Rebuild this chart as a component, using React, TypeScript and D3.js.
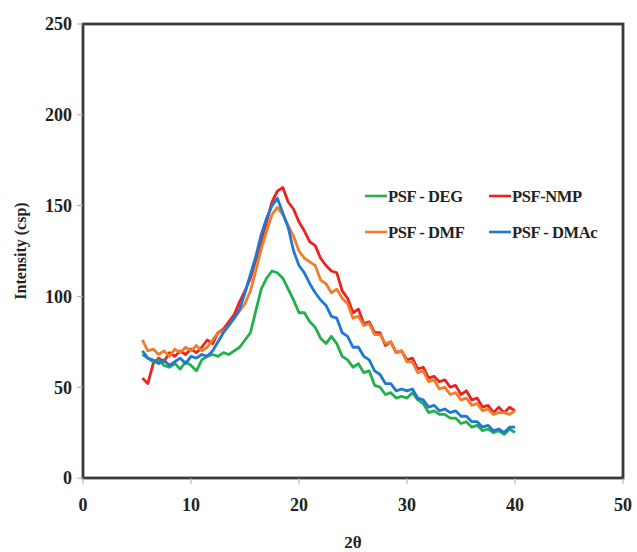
import React from "react";
import * as d3 from "d3";

const twoTheta = [
  5.5, 6, 6.5, 7, 7.5, 8, 8.5, 9, 9.5, 10, 10.5, 11, 11.5, 12, 12.5, 13, 13.5, 14, 14.5, 15,
  15.5, 16, 16.5, 17, 17.5, 18, 18.5, 19, 19.5, 20, 20.5, 21, 21.5, 22, 22.5, 23, 23.5, 24, 24.5, 25,
  25.5, 26, 26.5, 27, 27.5, 28, 28.5, 29, 29.5, 30, 30.5, 31, 31.5, 32, 32.5, 33, 33.5, 34, 34.5, 35,
  35.5, 36, 36.5, 37, 37.5, 38, 38.5, 39, 39.5, 40,
];

const nmp = [
  55, 52, 63, 66, 64, 69, 67, 70, 68, 71, 69, 72, 76, 74, 80, 82, 86, 90, 97, 103,
  110, 120, 130, 141, 152, 158, 160, 152, 148, 141, 136, 130, 128, 121, 117, 114, 113, 103, 99, 91,
  93, 85, 86, 80, 80, 73, 75, 69, 70, 65, 66, 60, 61, 55, 56, 53, 54, 50, 51, 46,
  48, 43, 44, 39, 40, 36, 39, 36, 39, 37,
];

const dmf = [
  76, 70, 71, 68, 70, 67, 71, 69, 72, 70, 73, 70, 72, 76, 80, 81, 84, 88, 92, 96,
  103, 114, 126, 136, 145, 149, 145, 139, 133, 125, 121, 119, 117, 109, 107, 102, 104, 99, 96, 88,
  89, 84, 85, 79, 79, 74, 75, 69, 70, 64, 64, 58, 59, 53, 54, 49, 50, 46, 47, 43,
  44, 40, 41, 37, 38, 35, 36, 36, 35, 37,
];

const dmac = [
  70, 66, 65, 63, 65, 62, 64, 66, 63, 67, 66, 68, 67, 70, 75, 80, 84, 88, 93, 102,
  112, 122, 134, 143, 150, 154, 146, 138, 125, 117, 113, 107, 102, 98, 95, 89, 88, 80, 78, 72,
  72, 67, 65, 59, 57, 52, 52, 48, 49, 48, 49, 44, 43, 39, 40, 37, 38, 36, 37, 34,
  34, 31, 31, 28, 29, 26, 27, 25, 28, 28,
];

const deg = [
  68, 66, 64, 65, 62, 61, 63, 60, 64, 62, 59, 65, 67, 68, 67, 69, 68, 70, 72, 76,
  80, 92, 104, 110, 114, 113, 110, 104, 98, 91, 91, 86, 83, 77, 74, 78, 74, 67, 65, 61,
  63, 58, 59, 51, 50, 46, 47, 44, 45, 44, 47, 43, 41, 36, 37, 35, 35, 33, 33, 30,
  31, 28, 29, 26, 27, 25, 26, 24, 27, 25,
];

const seriesNames = ["PSF - DEG", "PSF-NMP", "PSF - DMF", "PSF - DMAc"];
const seriesColors = ["#22b04b", "#f0201e", "#ee7d2e", "#1f78d1"];
const seriesValues = [deg, nmp, dmf, dmac];
const drawOrder = [1, 0, 2, 3];

const xTicks = [0, 10, 20, 30, 40, 50];
const yTicks = [0, 50, 100, 150, 200, 250];

const W = 637;
const H = 552;
const left = 83;
const right = 623;
const top = 24;
const bottom = 478;
const FONT = "'Liberation Serif', 'Times New Roman', serif";

export default function App() {
  const x = d3.scaleLinear().domain([0, 50]).range([left, right]);
  const y = d3.scaleLinear().domain([0, 250]).range([bottom, top]);
  const line = d3
    .line<number>()
    .x((_, i) => x(twoTheta[i]))
    .y((v) => y(v));

  const legendItems = [
    { idx: 0, lx: 365, ly: 196 },
    { idx: 1, lx: 489, ly: 196 },
    { idx: 2, lx: 365, ly: 232 },
    { idx: 3, lx: 489, ly: 232 },
  ];

  return (
    <svg
      width={W}
      height={H}
      style={{ position: "absolute", left: 0, top: 0, background: "#fff" }}
      fontFamily={FONT}
    >
      <rect x={0} y={0} width={W} height={H} fill="#fff" />
      {drawOrder.map((k) => (
        <path
          key={k}
          d={line(seriesValues[k]) || ""}
          fill="none"
          stroke={seriesColors[k]}
          strokeWidth={2.8}
          strokeLinejoin="round"
        />
      ))}
      <rect
        x={left}
        y={top}
        width={right - left}
        height={bottom - top}
        fill="none"
        stroke="#3a3a3a"
        strokeWidth={2.8}
      />
      {yTicks.map((t) => (
        <g key={"y" + t}>
          <line x1={left - 6} x2={left} y1={y(t)} y2={y(t)} stroke="#aaa" strokeWidth={1} />
          <text
            x={left - 11}
            y={y(t)}
            dy="0.35em"
            textAnchor="end"
            fontSize={18}
            fontWeight="bold"
            fill="#222"
          >
            {t}
          </text>
        </g>
      ))}
      {xTicks.map((t) => (
        <g key={"x" + t}>
          <line x1={x(t)} x2={x(t)} y1={bottom} y2={bottom + 6} stroke="#aaa" strokeWidth={1} />
          <text
            x={x(t)}
            y={511}
            textAnchor="middle"
            fontSize={18}
            fontWeight="bold"
            fill="#222"
          >
            {t}
          </text>
        </g>
      ))}
      <text
        x={(left + right) / 2}
        y={548}
        textAnchor="middle"
        fontSize={17}
        fontWeight="bold"
        fill="#222"
      >
        2θ
      </text>
      <text
        transform={`translate(26, ${(top + bottom) / 2}) rotate(-90)`}
        textAnchor="middle"
        fontSize={16}
        fontWeight="bold"
        fill="#222"
      >
        Intensity (csp)
      </text>
      {legendItems.map((it) => (
        <g key={"lg" + it.idx}>
          <line
            x1={it.lx}
            x2={it.lx + 22}
            y1={it.ly}
            y2={it.ly}
            stroke={seriesColors[it.idx]}
            strokeWidth={2.6}
          />
          <text
            x={it.lx + 23}
            y={it.ly}
            dy="0.35em"
            fontSize={16.5}
            fontWeight="bold"
            fill="#222"
            letterSpacing={-0.4}
          >
            {seriesNames[it.idx]}
          </text>
        </g>
      ))}
    </svg>
  );
}
